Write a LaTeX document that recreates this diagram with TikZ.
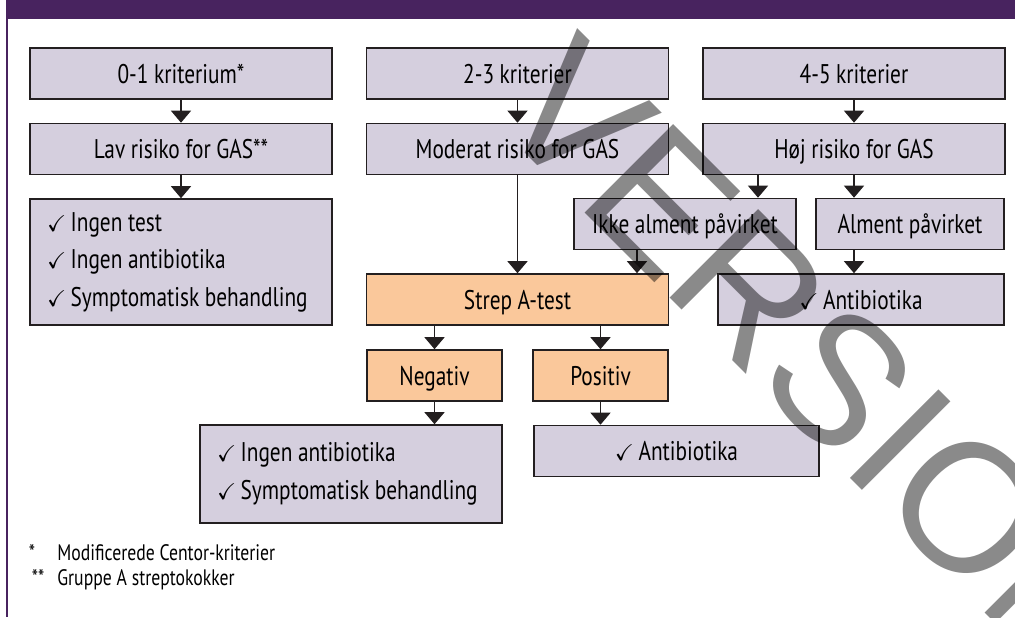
\documentclass[tikz,border=0pt]{standalone}
\usepackage{amssymb}
\usepackage{fontspec}
\setmainfont[FakeStretch=0.79]{PT Sans}
\newfontfamily\wmfont{Liberation Sans}
\usetikzlibrary{arrows.meta}
\definecolor{lav}{RGB}{213,207,222}
\definecolor{org}{RGB}{250,200,155}
\definecolor{edge}{RGB}{35,31,32}
\definecolor{plum}{RGB}{72,35,95}
\newcommand{\chk}{\scalebox{0.85}{$\checkmark$}\,}
\newcommand{\boxfont}{\fontsize{13.5}{18.75}\selectfont\spaceskip=2.8pt plus 1pt minus 0.5pt\relax}
\newcommand{\notefont}{\fontsize{11.2}{12}\selectfont\spaceskip=2.4pt\relax}

\begin{document}
\begin{tikzpicture}[x=0.5pt,y=-0.5pt,
    box/.style={draw=edge, line width=0.8pt, fill=lav, inner sep=0pt, font=\boxfont},
    line/.style={box, minimum height=25.5pt, text height=9.5pt, text depth=0pt},
    wide/.style={minimum width=151pt},
    list/.style={box, text width=134pt, inner xsep=8.5pt, align=flush left},
    note/.style={inner sep=0pt, font=\notefont},
    arr/.style={-{Triangle[width=10pt,length=6pt]}, line width=0.65pt, draw=edge}]
  \useasboundingbox (0,0) rectangle (1015,617);

  % FRAME
  \fill[plum] (6,0) rectangle (1015,19);
  \draw[plum, line width=0.6pt] (7,19) -- (7,617);

  % CRITERIA
  \node[line,wide] (k01) at (181,73.5)   {0-1 kriterium*};
  \node[line,wide] (k23) at (517.5,73.5) {2-3 kriterier};
  \node[line,wide] (k45) at (854,73.5)   {4-5 kriterier};

  % RISK
  \node[line,wide] (lav) at (181,149)   {Lav risiko for GAS**};
  \node[line,wide] (mod) at (517.5,149) {Moderat risiko for GAS};
  \node[line,wide] (hoj) at (854,149)   {Høj risiko for GAS};

  % low risk
  \node[list, minimum height=63pt] (lavraad) at (181,262)
    {\chk Ingen test\\ \chk Ingen antibiotika\\ \chk Symptomatisk behandling};

  % high risk
  \node[line, minimum width=111pt] (ikke) at (685,224) {Ikke alment påvirket};
  \node[line, minimum width=94pt]  (alm)  at (910,224) {Alment påvirket};
  \node[line, minimum width=143pt] (hojab) at (861,299.5) {\chk Antibiotika};

  % TEST
  \node[line,wide,fill=org] (strep) at (517.5,299.5) {Strep A-test};
  \node[line, minimum width=67.5pt, fill=org] (neg) at (434.5,375.5) {Negativ};
  \node[line, minimum width=67.5pt, fill=org] (pos) at (600.5,375.5) {Positiv};

  % RESULT
  \node[list, minimum height=49pt] (negraad) at (351,474)
    {\chk Ingen antibiotika\\ \chk Symptomatisk behandling};
  \node[line, minimum width=142.5pt] (posab) at (676.5,451) {\chk Antibiotika};

  % ARROWS
  \coordinate (xa) at (758,0);
  \coordinate (xb) at (637,0);
  \draw[arr] (k01) -- (lav);
  \draw[arr] (k23) -- (mod);
  \draw[arr] (k45) -- (hoj);
  \draw[arr] (lav) -- (lavraad);
  \draw[arr] (mod) -- (strep);
  \draw[arr] (hoj.south -| xa) -- (ikke.north -| xa);
  \draw[arr] (hoj.south) -- (alm.north -| hoj.south);
  \draw[arr] (alm.south -| hoj.south) -- (hojab.north -| hoj.south);
  \draw[arr] (ikke.south -| xb) -- (strep.north -| xb);
  \draw[arr] (strep.south -| neg.north) -- (neg.north);
  \draw[arr] (strep.south -| pos.north) -- (pos.north);
  \draw[arr] (neg.south) -- (negraad.north -| neg.south);
  \draw[arr] (pos.south) -- (posab.north -| pos.south);

  % NOTES
  \node[note, anchor=base]      (s1) at (32,560) {*};
  \node[note, anchor=base west] (n1) at (57,560) {Modificerede Centor-kriterier};
  \node[note, anchor=base]      (s2) at (38,585) {**};
  \node[note, anchor=base west] (n2) at (57,585) {Gruppe A streptokokker};

  % WATERMARK
  \begin{scope}
    \clip (0,0) rectangle (1015,617);
    \node[rotate=-45, anchor=base west, inner sep=0pt, text=black, text opacity=0.46,
      font=\wmfont\fontsize{91}{91}\selectfont] (wm) at (488,116) {VERSION};
  \end{scope}
\end{tikzpicture}
\end{document}
